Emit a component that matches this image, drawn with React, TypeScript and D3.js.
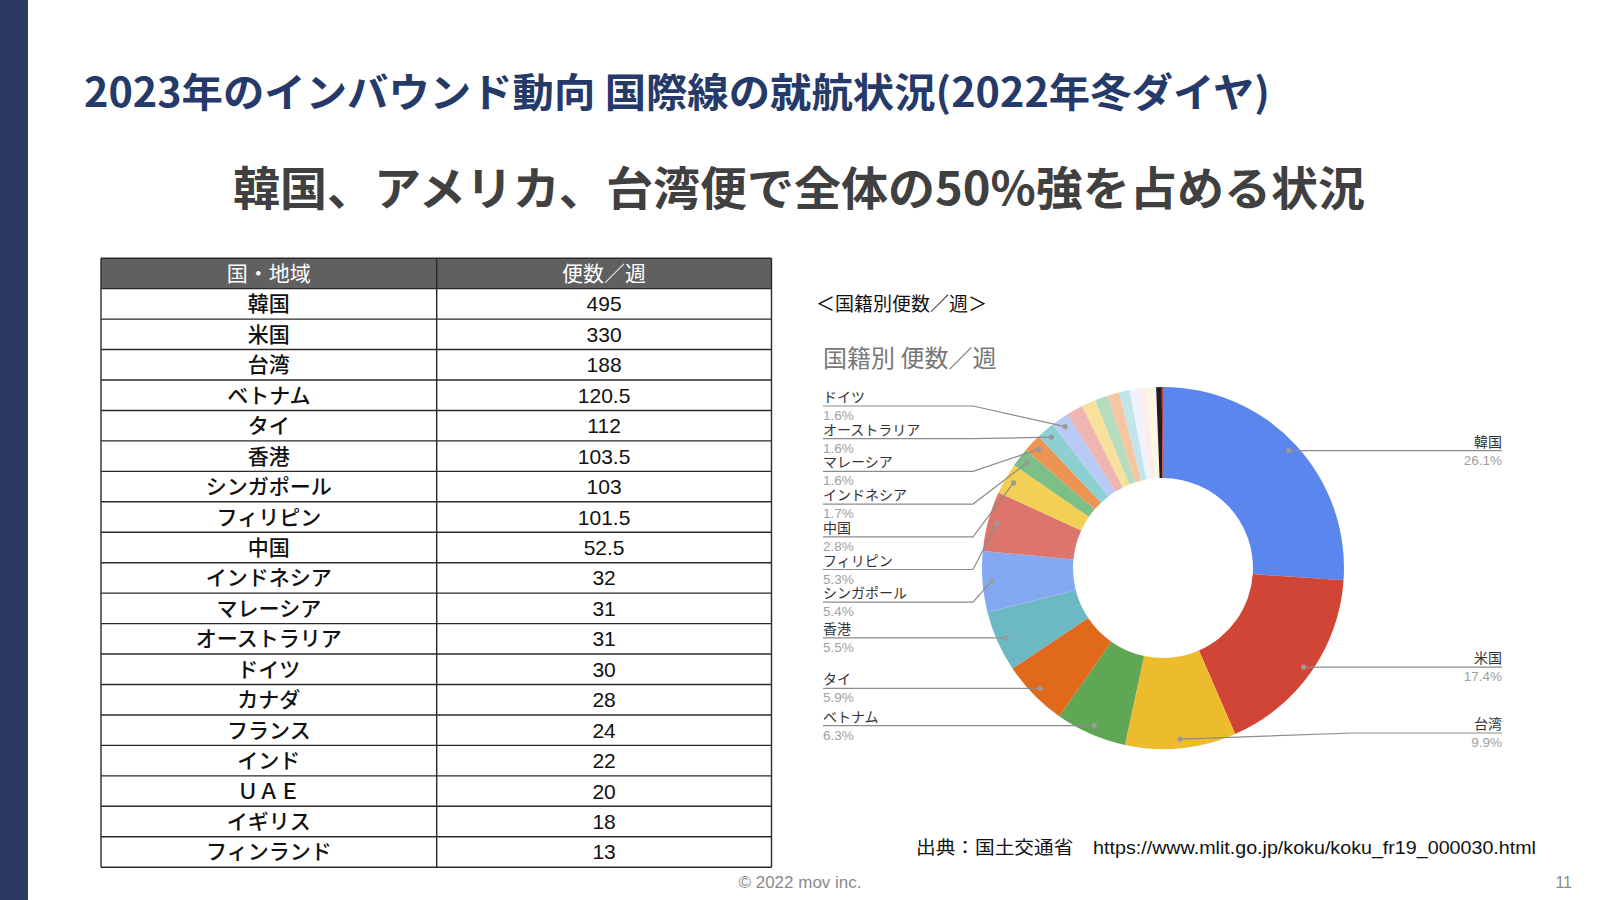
import React from "react";
import * as d3 from "d3";

// ---------- data ----------
const tableHeaders = ["国・地域", "便数／週"];
const countries = [
  "韓国", "米国", "台湾", "ベトナム", "タイ", "香港", "シンガポール", "フィリピン", "中国",
  "インドネシア", "マレーシア", "オーストラリア", "ドイツ", "カナダ", "フランス", "インド",
  "ＵＡＥ", "イギリス", "フィンランド",
];
const flightsPerWeek = [495, 330, 188, 120.5, 112, 103.5, 103, 101.5, 52.5, 32, 31, 31, 30, 28, 24, 22, 20, 18, 13];
// small unlabeled slices shown in the donut but not in the table
const otherNames = ["その他1", "その他2", "その他3", "その他4"];
const otherValues = [15.5, 16, 9.5, 2];
const sliceColors = [
  "#5A86EE", "#D14536", "#EDBC2C", "#5FA755", "#E1691C", "#6CB8C3", "#84A8F1", "#DC766C",
  "#F3CF56", "#7CBF87", "#EC9552", "#8DD0D2", "#B8CBF6", "#EEB5B1", "#F7E19C", "#B4DCBD",
  "#F6C6A2", "#C2E5E9", "#EEF3FD", "#FCEEEE", "#FEF6E2", "#1D1F26", "#C8372D",
];

const titleText = "2023年のインバウンド動向 国際線の就航状況(2022年冬ダイヤ)";
const subtitleText = "韓国、アメリカ、台湾便で全体の50%強を占める状況";
const chartCaption = "＜国籍別便数／週＞";
const chartTitle = "国籍別 便数／週";
const sourceText = "出典：国土交通省　https://www.mlit.go.jp/koku/koku_fr19_000030.html";
const copyrightText = "© 2022 mov inc.";
const pageNumber = "11";

// ---------- layout ----------
const W = 1600, H = 900;
const cx = 1163, cy = 568, R = 181, R0 = 90, dotR = 172;
const labelGap = 32.7;
const CJK = "'Noto Sans CJK JP', sans-serif";
const MIX = "'Liberation Sans', Arial, 'Noto Sans CJK JP', sans-serif";

type Item = { name: string; value: number; color: string };
type Lab = { name: string; pct: string; dx: number; dy: number; ly: number };

function layoutLabels(items: Lab[], gap: number, minY: number, maxY: number) {
  const sorted = [...items].sort((a, b) => a.dy - b.dy);
  type C = { items: Lab[]; top: number };
  const place = (c: C) => {
    const n = c.items.length;
    const mean = d3.mean(c.items, (d) => d.dy) as number;
    let top = mean - ((n - 1) * gap) / 2;
    top = Math.max(minY, Math.min(top, maxY - (n - 1) * gap));
    c.top = top;
  };
  let clusters: C[] = sorted.map((it) => ({ items: [it], top: 0 }));
  clusters.forEach(place);
  let merged = true;
  while (merged) {
    merged = false;
    for (let i = 1; i < clusters.length; i++) {
      const a = clusters[i - 1], b = clusters[i];
      const aBottom = a.top + (a.items.length - 1) * gap;
      if (b.top - aBottom < gap - 0.01) {
        const c: C = { items: [...a.items, ...b.items], top: 0 };
        place(c);
        clusters.splice(i - 1, 2, c);
        merged = true;
        break;
      }
    }
  }
  clusters.forEach((c) => c.items.forEach((it, k) => (it.ly = c.top + k * gap)));
}

export default function App() {
  const items: Item[] = countries
    .map((c, i) => ({ name: c, value: flightsPerWeek[i], color: sliceColors[i] }))
    .concat(otherNames.map((n, i) => ({ name: n, value: otherValues[i], color: sliceColors[countries.length + i] })));
  const total = d3.sum(items, (d) => d.value);
  const pie = d3.pie<Item>().sort(null).value((d) => d.value);
  const arcs = pie(items);
  const arcGen = d3.arc<d3.PieArcDatum<Item>>().innerRadius(R0).outerRadius(R);
  const pctFmt = d3.format(".1%");

  const left: Lab[] = [];
  const right: Lab[] = [];
  arcs.forEach((a) => {
    if (a.data.value / total < 0.015) return;
    const mid = (a.startAngle + a.endAngle) / 2;
    const lab: Lab = {
      name: a.data.name,
      pct: pctFmt(a.data.value / total),
      dx: cx + dotR * Math.sin(mid),
      dy: cy - dotR * Math.cos(mid),
      ly: 0,
    };
    (mid < Math.PI ? right : left).push(lab);
  });
  layoutLabels(left, labelGap, cy - R + 19, cy + R - 16);
  layoutLabels(right, labelGap, cy - R + 19, cy + R - 16);
  const leftTextX = 823, leftElbow = cx - 190;
  const rightTextX = 1502, rightElbow = cx + 190;

  // table
  const tX0 = 101, tX1 = 771.5, tXm = 436.7, tY0 = 258.2, rowH = 30.45;
  const col1 = (tX0 + tXm) / 2, col2 = (tXm + tX1) / 2;
  const nRows = countries.length + 1;
  const yScale = d3.scaleLinear().domain([0, nRows]).range([tY0, tY0 + nRows * rowH]);

  return (
    <svg width={W} height={H} style={{ position: "absolute", left: 0, top: 0, background: "#fff" }}>
      <rect x={0} y={0} width={W} height={H} fill="#fff" />
      <rect x={0} y={0} width={28} height={H} fill="#2C3A62" />

      <text x={84} y={90} fontFamily={CJK} fontWeight={700} fontSize={40} fill="#263A6A"
        dominantBaseline="central" textLength={1186} lengthAdjust="spacingAndGlyphs">{titleText}</text>
      <text x={233} y={185} fontFamily={CJK} fontWeight={700} fontSize={46} fill="#404040"
        dominantBaseline="central" textLength={1132} lengthAdjust="spacingAndGlyphs">{subtitleText}</text>

      {/* table */}
      <rect x={tX0} y={yScale(0)} width={tX1 - tX0} height={rowH} fill="#606060" />
      {tableHeaders.map((h, i) => (
        <text key={h} x={i === 0 ? col1 : col2} y={yScale(0.5)} textAnchor="middle" dominantBaseline="central"
          fontFamily={MIX} fontSize={21} fill="#fff">{h}</text>
      ))}
      {countries.map((c, i) => (
        <g key={c}>
          <text x={col1} y={yScale(i + 1.5)} textAnchor="middle" dominantBaseline="central"
            fontFamily={MIX} fontSize={21} fontWeight={500} fill="#111">{c}</text>
          <text x={col2} y={yScale(i + 1.5)} textAnchor="middle" dominantBaseline="central"
            fontFamily={MIX} fontSize={21} fill="#111">{String(flightsPerWeek[i])}</text>
        </g>
      ))}
      {d3.range(nRows + 1).map((k) => (
        <line key={k} x1={tX0} x2={tX1} y1={yScale(k)} y2={yScale(k)} stroke="#2a2a2a" strokeWidth={1.4} />
      ))}
      <line x1={tX0} x2={tX0} y1={yScale(0)} y2={yScale(nRows)} stroke="#2a2a2a" strokeWidth={1.4} />
      <line x1={tXm} x2={tXm} y1={yScale(0)} y2={yScale(nRows)} stroke="#2a2a2a" strokeWidth={1.4} />
      <line x1={tX1} x2={tX1} y1={yScale(0)} y2={yScale(nRows)} stroke="#2a2a2a" strokeWidth={1.4} />

      {/* chart */}
      <text x={816} y={302} fontFamily={CJK} fontSize={19} fill="#111" dominantBaseline="central">{chartCaption}</text>
      <text x={823} y={356} fontFamily={CJK} fontSize={24} fill="#777" dominantBaseline="central">{chartTitle}</text>
      <g transform={`translate(${cx},${cy})`}>
        {arcs.map((a, i) => (
          <path key={i} d={arcGen(a) as string} fill={a.data.color} />
        ))}
      </g>
      {left.map((l) => (
        <g key={l.name}>
          <polyline points={`${leftTextX},${l.ly} ${leftElbow},${l.ly} ${l.dx},${l.dy}`} fill="none" stroke="#8c8c8c" strokeWidth={1.2} />
          <circle cx={l.dx} cy={l.dy} r={2.6} fill="#9a9a9a" />
          <text x={leftTextX} y={l.ly - 4} fontFamily={CJK} fontSize={14} fill="#333">{l.name}</text>
          <text x={leftTextX} y={l.ly + 14} fontFamily="'Liberation Sans', Arial, sans-serif" fontSize={13.5} fill="#a0a0a0">{l.pct}</text>
        </g>
      ))}
      {right.map((l) => (
        <g key={l.name}>
          <polyline points={`${l.dx},${l.dy} ${rightElbow},${l.ly} ${rightTextX},${l.ly}`} fill="none" stroke="#8c8c8c" strokeWidth={1.2} />
          <circle cx={l.dx} cy={l.dy} r={2.6} fill="#9a9a9a" />
          <text x={rightTextX} y={l.ly - 4} textAnchor="end" fontFamily={CJK} fontSize={14} fill="#333">{l.name}</text>
          <text x={rightTextX} y={l.ly + 14} textAnchor="end" fontFamily="'Liberation Sans', Arial, sans-serif" fontSize={13.5} fill="#a0a0a0">{l.pct}</text>
        </g>
      ))}

      <text x={916} y={848} fontFamily={MIX} fontSize={18} fill="#111" dominantBaseline="central"
        textLength={620} lengthAdjust="spacingAndGlyphs">{sourceText}</text>
      <text x={800} y={882} textAnchor="middle" fontFamily={MIX} fontSize={17} fill="#8a8a8a" dominantBaseline="central">{copyrightText}</text>
      <text x={1572} y={882} textAnchor="end" fontFamily={MIX} fontSize={16} fill="#8a8a8a" dominantBaseline="central">{pageNumber}</text>
    </svg>
  );
}
